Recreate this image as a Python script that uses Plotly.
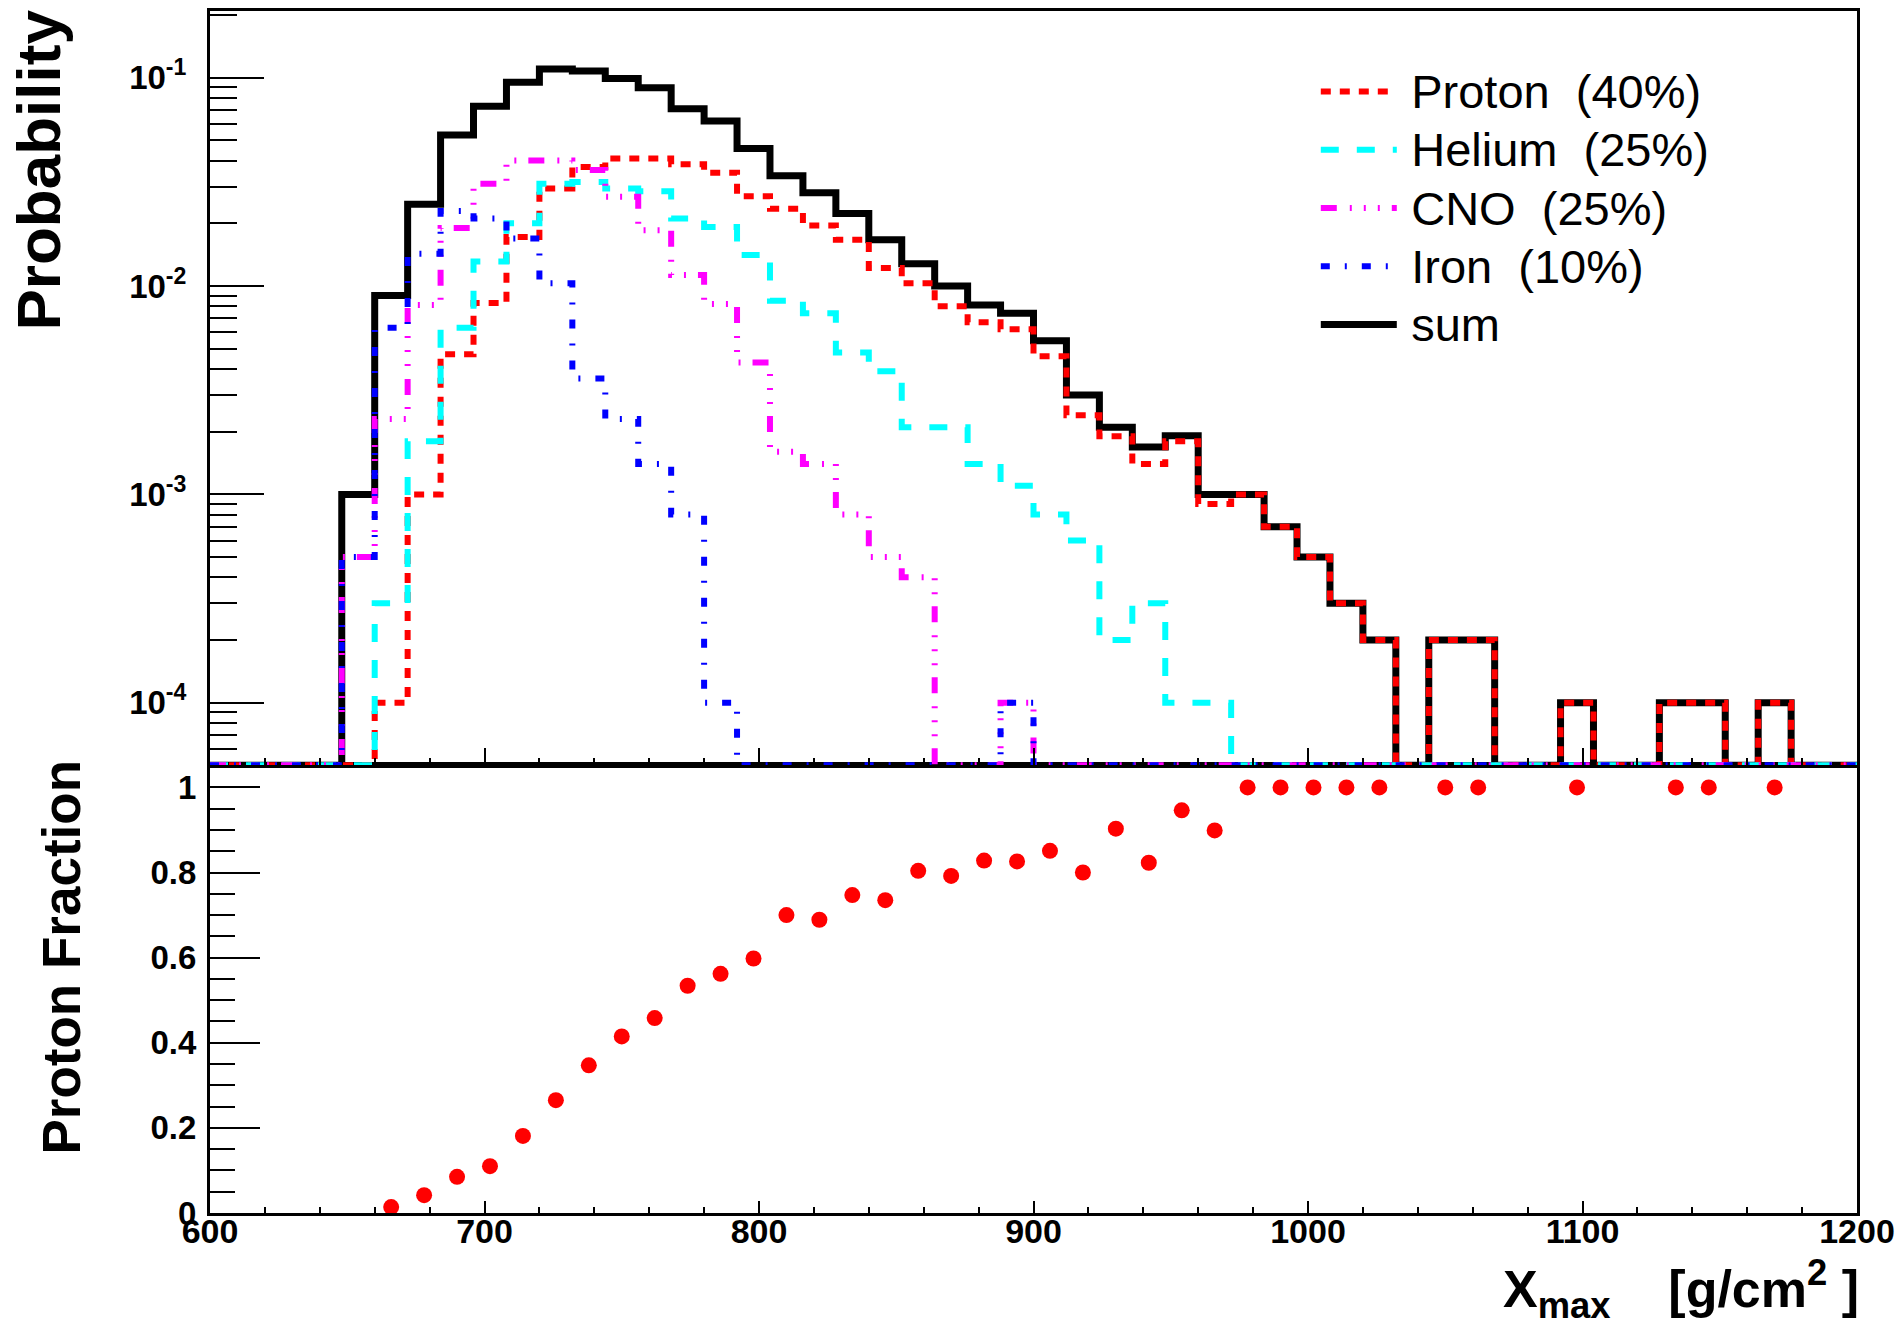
import plotly.graph_objects as go

# ---------------- data ----------------
bin_lo = 600
bin_width = 12
n_bins = 50
bin_edges = [bin_lo + bin_width * i for i in range(n_bins + 1)]

proton = [0, 0, 0, 0, 0, 1e-4, 0.0010, 0.0047, 0.0083, 0.0172,
          0.0294, 0.0373, 0.0409, 0.0409, 0.0384, 0.0350, 0.0270, 0.0235, 0.0195, 0.0167,
          0.0122, 0.0103, 0.0080, 0.0067, 0.0062, 0.0046, 0.0024, 0.0019, 0.0014, 0.0018,
          0.0009, 0.0010, 0.0007, 0.0005, 0.0003, 0.0002, 0, 0.0002, 0.0002, 0,
          0, 0.0001, 0, 0, 0.0001, 0.0001, 0, 0.0001, 0, 0]

helium = [0, 0, 0, 0, 0, 0.0003, 0.0018, 0.0063, 0.0131, 0.0200,
          0.0310, 0.0316, 0.0294, 0.0285, 0.0211, 0.0192, 0.0141, 0.0085, 0.0074, 0.0048,
          0.0039, 0.0021, 0.0021, 0.0014, 0.0011, 0.0008, 0.0006, 0.0002, 0.0003, 0.0001,
          0.0001, 0, 0, 0, 0, 0, 0, 0, 0, 0,
          0, 0, 0, 0, 0, 0, 0, 0, 0, 0]

cno = [0, 0, 0, 0, 0.0005, 0.0023, 0.0081, 0.0190, 0.0310, 0.0400,
       0.0400, 0.0360, 0.0268, 0.0185, 0.0113, 0.0082, 0.0043, 0.0016, 0.0014, 0.0008,
       0.0005, 0.0004, 0, 0, 0.0001, 0, 0, 0, 0, 0,
       0, 0, 0, 0, 0, 0, 0, 0, 0, 0,
       0, 0, 0, 0, 0, 0, 0, 0, 0, 0]

iron = [0, 0, 0, 0, 0.0005, 0.0063, 0.0143, 0.0229, 0.0211, 0.0169,
        0.0103, 0.0036, 0.0023, 0.0014, 0.0008, 0.0001, 0, 0, 0, 0,
        0, 0, 0, 0, 0.0001, 0, 0, 0, 0, 0,
        0, 0, 0, 0, 0, 0, 0, 0, 0, 0,
        0, 0, 0, 0, 0, 0, 0, 0, 0, 0]

total = [0, 0, 0, 0, 0.0010, 0.0090, 0.0247, 0.0530, 0.0730, 0.0950,
         0.1100, 0.1076, 0.0990, 0.0895, 0.0710, 0.0620, 0.0457, 0.0338, 0.0280, 0.0223,
         0.0167, 0.0128, 0.0100, 0.0081, 0.0074, 0.00546, 0.0030, 0.0021, 0.00169, 0.00191,
         0.0010, 0.0010, 0.0007, 0.0005, 0.0003, 0.0002, 0, 0.0002, 0.0002, 0,
         0, 0.0001, 0, 0, 0.0001, 0.0001, 0, 0.0001, 0, 0]

frac_x = [666, 678, 690, 702, 714, 726, 738, 750, 762, 774,
          786, 798, 810, 822, 834, 846, 858, 870, 882, 894,
          906, 918, 930, 942, 954, 966, 978, 990, 1002, 1014,
          1026, 1050, 1062, 1098, 1134, 1146, 1170]
frac_y = [0.014, 0.042, 0.085, 0.110, 0.181, 0.265, 0.347, 0.415, 0.458, 0.534,
          0.562, 0.598, 0.700, 0.689, 0.747, 0.735, 0.804, 0.792, 0.828, 0.826,
          0.851, 0.800, 0.903, 0.823, 0.946, 0.899, 1.0, 1.0, 1.0, 1.0,
          1.0, 1.0, 1.0, 1.0, 1.0, 1.0, 1.0]

NB = "\u00a0"
THIN = "\u2009"
legend_labels = ["Proton" + NB * 2 + "(40%)", "Helium" + NB * 2 + "(25%)",
                 "CNO" + NB * 2 + "(25%)", "Iron" + NB * 2 + "(10%)", "sum"]

log_lo, log_hi = -4.30, -0.68
major_log_ticks = [1e-4, 1e-3, 1e-2, 1e-1]
major_log_text = ["10<sup>-4</sup>", "10<sup>-3</sup>", "10<sup>-2</sup>", "10<sup>-1</sup>"]
minor_log_ticks = [m * 10.0 ** e for e in range(-5, 0) for m in range(2, 10)]

# ---------------- helpers ----------------
floor_val = 10 ** log_lo  # empty bins are drawn on the lower frame, as ROOT does


def step_xy(vals):
    xs = list(bin_edges)
    ys = [v if v > 0 else floor_val for v in vals]
    ys = ys + [ys[-1]]
    return xs, ys


def legend_text(label):
    return '<span style="font-size:47px">' + THIN + label + "</span>"


FONT = "Liberation Sans, Arial, Helvetica, sans-serif"

fig = go.Figure()

series = [
    (total, "black", "solid", 7, legend_labels[4], 5),
    (proton, "#ff0000", "10px,9px", 6, legend_labels[0], 1),
    (helium, "#00ffff", "18px,18px", 6, legend_labels[1], 2),
    (cno, "#ff00ff", "16px,13px,2px,12px,2px,12px,2px,12px", 6, legend_labels[2], 3),
    (iron, "#0000ff", "9px,15px,2px,15px", 6, legend_labels[3], 4),
]
for vals, col, dash, w, name, rank in series:
    xs, ys = step_xy(vals)
    fig.add_trace(go.Scatter(
        x=xs, y=ys, mode="lines", line=dict(color=col, width=w, dash=dash, shape="hv"),
        name=legend_text(name), legendrank=rank, xaxis="x2", yaxis="y2",
        hoverinfo="skip"))

fig.add_trace(go.Scatter(
    x=frac_x, y=frac_y, mode="markers",
    marker=dict(color="#ff0000", size=16, line=dict(width=0)),
    showlegend=False, xaxis="x", yaxis="y", cliponaxis=False))

split = 0.3725
tickfont = dict(family=FONT, size=33, color="black", weight="bold")

common_axis = dict(showline=True, linecolor="black", linewidth=3, mirror=True,
                   showgrid=False, zeroline=False, ticks="inside", tickcolor="black",
                   tickwidth=2, automargin=False)

fig.update_layout(
    width=1896, height=1327,
    paper_bgcolor="white", plot_bgcolor="white",
    margin=dict(l=210, r=39, t=11, b=114, autoexpand=False),
    xaxis=dict(domain=[0, 1], range=[600, 1200], anchor="y", tick0=600, dtick=100,
               ticklen=12, tickfont=dict(family=FONT, size=34, color="black", weight="bold"),
               ticklabelstandoff=-14,
               minor=dict(dtick=20, tick0=600, ticklen=6, tickwidth=2, ticks="inside",
                          tickcolor="black"),
               **common_axis),
    yaxis=dict(domain=[0, split], range=[0, 1.052], anchor="x", tick0=0, dtick=0.2,
               ticklen=50, tickfont=tickfont, ticklabelstandoff=4,
               minor=dict(dtick=0.05, tick0=0, ticklen=25, tickwidth=2, ticks="inside",
                          tickcolor="black"),
               **common_axis),
    xaxis2=dict(domain=[0, 1], range=[600, 1200], anchor="y2", matches="x",
                tick0=600, dtick=100, ticklen=17, showticklabels=False,
                minor=dict(dtick=20, tick0=600, ticklen=7, tickwidth=2, ticks="inside",
                           tickcolor="black"),
                **common_axis),
    yaxis2=dict(domain=[split, 1], type="log", range=[log_lo, log_hi], anchor="x2",
                tickmode="array", tickvals=major_log_ticks, ticktext=major_log_text,
                ticklen=54, tickfont=tickfont, ticklabelstandoff=14,
                minor=dict(tickmode="array", tickvals=minor_log_ticks, ticklen=27,
                           tickwidth=2, ticks="inside", tickcolor="black"),
                **common_axis),
    legend=dict(x=0.6714, y=0.9614, xanchor="left", yanchor="top",
                bgcolor="rgba(255,255,255,0)", borderwidth=0, itemwidth=76,
                font=dict(family=FONT, size=42.5, color="black"),
                traceorder="normal"),
    showlegend=True,
)

W = 1647.0
H = 1202.0


def px_x(p):
    return (p - 210) / W


def px_y(p):
    return 1 - (p - 11) / H


fig.add_annotation(text="Probability", xref="paper", yref="paper",
                   x=px_x(38), y=px_y(8), xanchor="center", yanchor="top",
                   textangle=-90, showarrow=False,
                   font=dict(family=FONT, size=62, color="black", weight="bold"))
fig.add_annotation(text="Proton Fraction", xref="paper", yref="paper",
                   x=px_x(61), y=px_y(758), xanchor="center", yanchor="top",
                   textangle=-90, showarrow=False,
                   font=dict(family=FONT, size=53, color="black", weight="bold"))
fig.add_annotation(text="X<sub>max</sub>" + NB * 4 + "[g/cm<sup>2</sup>" + NB + "]",
                   xref="paper", yref="paper",
                   x=px_x(1861), y=px_y(1328), xanchor="right", yanchor="bottom",
                   showarrow=False,
                   font=dict(family=FONT, size=52, color="black", weight="bold"))

fig.write_html("out.html",
               config={"displayModeBar": False},
               post_script="document.body.style.margin='0px';"
                           "document.body.style.overflow='hidden';")
